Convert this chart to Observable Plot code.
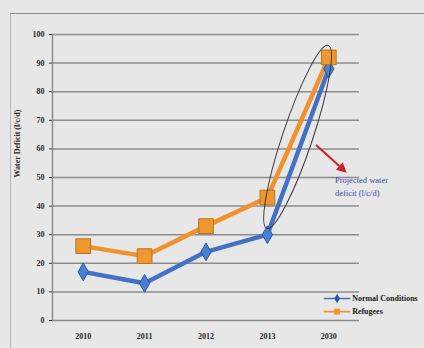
<!DOCTYPE html>
<html>
<head>
<meta charset="utf-8">
<script src="https://cdn.jsdelivr.net/npm/d3@7"></script>
<script src="https://cdn.jsdelivr.net/npm/@observablehq/plot@0.6"></script>
<style>
  html, body { margin: 0; padding: 0; background: #e7e7e7; }
  #wrap { position: relative; width: 424px; height: 348px; overflow: hidden; }
  #frame { position: absolute; left: 10px; top: 13px; width: 430px; height: 360px;
           border-top: 1.5px solid #8a8a8a; border-left: 1.5px solid #b5b5b5; }
  #chart { position: absolute; left: 0; top: 0; }
</style>
</head>
<body>
<div id="wrap"><div id="frame"></div><div id="chart"></div></div>
<script>
// Water deficit by year (l/c/d)
const years = ["2010", "2011", "2012", "2013", "2030"];
const normalConditions = [17, 13, 24, 30, 88];
const refugees = [26, 22.5, 33, 43, 92];
const yTicks = [0, 10, 20, 30, 40, 50, 60, 70, 80, 90, 100];
const seriesNames = ["Normal Conditions", "Refugees"];
const seriesColors = ["#4372c4", "#f0922e"];

// annotation: ellipse around the projected jump, arrow and note
const ellipseEnds = [[3, 32], [4, 96]];
const arrowFrom = [3.8, 61.2];
const arrowTo = [4.3, 51.5];
const noteAt = [4.1, 47.2];
const noteText = "Projected water\ndeficit (l/c/d)";

// legend placement in chart units
const legendX = [3.93, 4.34];
const legendY = [7.7, 3.1];

const rows = [];
years.forEach((y, i) => {
  rows.push({i, series: seriesNames[0], value: normalConditions[i]});
  rows.push({i, series: seriesNames[1], value: refugees[i]});
});
const normalRows = rows.filter(d => d.series === seriesNames[0]);
const refugeeRows = rows.filter(d => d.series === seriesNames[1]);

const legendRows = seriesNames.map((s, k) => ({series: s, y: legendY[k]}));
const legendLineRows = legendRows.flatMap(d => legendX.map(x => ({...d, x})));

// ellipse drawn along the segment between two chart points
function ellipseMark(index, scales) {
  const [a, b] = ellipseEnds;
  const x1 = scales.x(a[0]), y1 = scales.y(a[1]);
  const x2 = scales.x(b[0]), y2 = scales.y(b[1]);
  const cx = (x1 + x2) / 2, cy = (y1 + y2) / 2;
  const rx = Math.hypot(x2 - x1, y2 - y1) / 2;
  const angle = Math.atan2(y2 - y1, x2 - x1) * 180 / Math.PI;
  const g = d3.create("svg:g");
  g.append("ellipse")
    .attr("cx", cx).attr("cy", cy)
    .attr("rx", rx).attr("ry", 15)
    .attr("transform", `rotate(${angle},${cx},${cy})`)
    .attr("fill", "none")
    .attr("stroke", "#3a3a3a")
    .attr("stroke-width", 1);
  return g.node();
}

// red pointer with a filled head
function arrowMark(index, scales) {
  const x1 = scales.x(arrowFrom[0]), y1 = scales.y(arrowFrom[1]);
  const x2 = scales.x(arrowTo[0]), y2 = scales.y(arrowTo[1]);
  const t = Math.atan2(y2 - y1, x2 - x1);
  const head = 10, half = 5;
  const bx = x2 - head * Math.cos(t), by = y2 - head * Math.sin(t);
  const g = d3.create("svg:g").attr("fill", "#d0202a").attr("stroke", "#d0202a");
  g.append("line")
    .attr("x1", x1).attr("y1", y1).attr("x2", bx).attr("y2", by)
    .attr("stroke-width", 2);
  g.append("path")
    .attr("stroke", "none")
    .attr("d", `M${x2},${y2}L${bx - half * Math.sin(t)},${by + half * Math.cos(t)}L${bx + half * Math.sin(t)},${by - half * Math.cos(t)}Z`);
  return g.node();
}

const chart = Plot.plot({
  width: 424,
  height: 348,
  marginLeft: 52,
  marginRight: 65,
  marginTop: 34,
  marginBottom: 28,
  style: {background: "transparent", fontFamily: "'Liberation Serif', serif", fontSize: "8px", color: "#2a2a2a", fontWeight: "bold"},
  x: {domain: [-0.5, 4.5], ticks: [0, 1, 2, 3, 4], tickFormat: i => years[i], tickSize: 0, tickPadding: 13, label: null},
  y: {domain: [0, 100], ticks: yTicks, tickSize: 3, tickPadding: 5, label: null},
  color: {domain: seriesNames, range: seriesColors},
  marks: [
    Plot.ruleY(yTicks, {stroke: "#8c8c8c", strokeWidth: 1.5}),
    Plot.ruleX([-0.5], {stroke: "#8c8c8c", strokeWidth: 1.5}),
    Plot.text(["Water Deficit (l/c/d)"], {frameAnchor: "left", rotate: -90, dx: -35, fontSize: 8, fontWeight: "bold"}),
    Plot.line(normalRows, {x: "i", y: "value", stroke: "series", strokeWidth: 4.5}),
    Plot.line(refugeeRows, {x: "i", y: "value", stroke: "series", strokeWidth: 4.5}),
    Plot.dot(normalRows, {x: "i", y: "value", symbol: "diamond", r: 5.4, fill: "#4a7fd2", stroke: "#2b58a6", strokeWidth: 1}),
    Plot.dot(refugeeRows, {x: "i", y: "value", symbol: "square", r: 8.3, fill: "#f0982f", stroke: "#b4741f", strokeWidth: 1}),
    ellipseMark,
    arrowMark,
    Plot.text([noteText], {x: () => noteAt[0], y: () => noteAt[1], textAnchor: "start", lineAnchor: "middle", fill: "#3c4aa6", fontSize: 8.5, fontWeight: "normal", lineHeight: 1.45}),
    Plot.line(legendLineRows, {x: "x", y: "y", z: "series", stroke: "series", strokeWidth: 1.6}),
    Plot.dot(legendRows, {x: (d) => (legendX[0] + legendX[1]) / 2, y: "y", symbol: d => d.series === seriesNames[0] ? "diamond" : "square", r: d => d.series === seriesNames[0] ? 3 : 4, fill: d => d.series === seriesNames[0] ? "#2b58a6" : "#f0982f", stroke: "none"}),
    Plot.text(legendRows, {x: () => legendX[1] + 0.04, y: "y", text: "series", textAnchor: "start", fill: "#222", fontSize: 8})
  ]
});
document.getElementById("chart").appendChild(chart);
</script>
</body>
</html>
